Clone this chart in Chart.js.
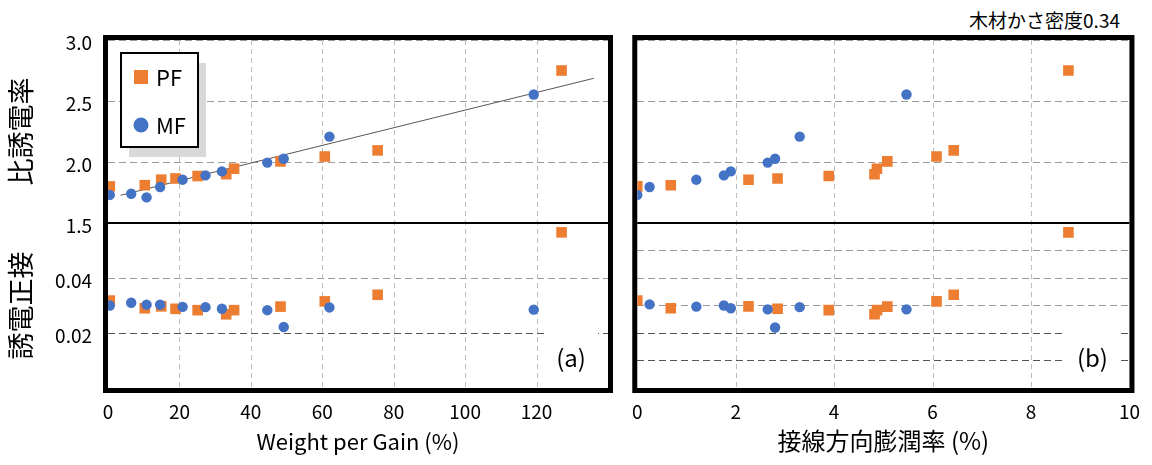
<!DOCTYPE html>
<html lang="ja">
<head>
<meta charset="utf-8">
<title>比誘電率・誘電正接</title>
<script src="https://cdn.jsdelivr.net/npm/chart.js@4.4.1/dist/chart.umd.min.js"></script>
<style>
  html, body { margin: 0; padding: 0; background: #fff; }
  body { width: 1152px; height: 465px; position: relative; overflow: hidden;
         font-family: "Noto Sans CJK JP", "Noto Sans", sans-serif; }
  .panel { position: absolute; top: 0; height: 465px; }
  #panel-a { left: 0; width: 620px; }
  #panel-b { left: 620px; width: 532px; }
  #density { position: absolute; top: 6px; right: 32px; font-size: 19px; line-height: 27px; color: #000; }
</style>
</head>
<body>
<div id="density">木材かさ密度0.34</div>
<div class="panel" id="panel-a"><canvas id="chart-a"></canvas></div>
<div class="panel" id="panel-b"><canvas id="chart-b"></canvas></div>
<script>
// PF samples (same order in both panels)
const pfWpg   = [0.5, 10.3, 14.9, 18.9, 25.1, 33.1, 35.3, 48.3, 60.7, 75.5, 127.0];
const pfSwell = [0.0, 0.68, 2.26, 2.85, 3.89, 4.82, 4.87, 5.08, 6.08, 6.43, 8.76];
const pfEr    = [1.80, 1.81, 1.855, 1.865, 1.885, 1.90, 1.945, 2.005, 2.045, 2.095, 2.75];
const pfTan   = [0.0318, 0.029, 0.0297, 0.0288, 0.0283, 0.0268, 0.0283, 0.0296, 0.0315, 0.0339, 0.0566];

// MF samples; two have no swelling value, one no tan delta in panel (b)
const mfWpg      = [0.5, 6.5, 10.8, 14.6, 20.9, 27.3, 31.9, 44.6, 49.2, 62.0, 119.2];
const mfSwell    = [0.0, null, null, 0.25, 1.2, 1.76, 1.9, 2.65, 2.8, 3.3, 5.47];
const mfEr       = [1.73, 1.74, 1.71, 1.795, 1.855, 1.89, 1.923, 1.995, 2.027, 2.208, 2.553];
const mfTan      = [0.030, 0.031, 0.0303, 0.0303, 0.0295, 0.0294, 0.0288, 0.0283, 0.0222, 0.0293, 0.0285];
const mfTanSwell = [null, null, null, 0.0304, 0.0296, 0.030, 0.029, 0.0286, 0.022, 0.0294, 0.0286];

// trend line drawn in panel (a)
const trendWpg = [3.5, 136];
const trendEr  = [1.727, 2.686];

// tick labels
const wpgTicks   = [0, 20, 40, 60, 80, 100, 120];
const swellTicks = [0, 2, 4, 6, 8, 10];
const erTicks    = [1.5, 2.0, 2.5, 3.0];
const tanTicks   = [0.02, 0.04];

const PF_COLOR = '#ED7D31';
const MF_COLOR = '#4472C4';

Chart.defaults.font.family = '"Noto Sans CJK JP", "Noto Sans", sans-serif';
Chart.defaults.color = '#000';

function xy(xs, ys) {
  const pts = [];
  xs.forEach((x, i) => {
    if (x != null && ys[i] != null) pts.push({ x: x, y: ys[i] });
  });
  return pts;
}

function marks(label, data, axis, color, style, r, order) {
  return {
    label, data, yAxisID: axis, order,
    pointStyle: style, pointRadius: r, pointHoverRadius: r,
    backgroundColor: color, borderColor: color, pointBorderWidth: 0
  };
}

const hasTick = (list, v) => list.some(t => Math.abs(t - v) < 1e-9);

// vertical grid lines are drawn by the frame plugin below
function xScale(min, max, step, shown, title, titleSize) {
  return {
    type: 'linear', min, max,
    afterFit: s => { s.height = 77; },
    ticks: { stepSize: step, autoSkip: false, maxRotation: 0, padding: 12, font: { size: 19 },
             callback: v => hasTick(shown, v) ? String(v) : '' },
    grid: { display: false, drawTicks: false },
    border: { display: false },
    title: { display: true, text: title, font: { size: titleSize }, padding: { top: 0, bottom: 10 } }
  };
}

function yScales(axisWidth, labels) {
  return {
    yTop: {
      type: 'linear', position: 'left', stack: 'main', stackWeight: 183, weight: 2,
      min: 1.5, max: 3.0,
      afterFit: s => { s.width = axisWidth; },
      ticks: { display: labels, stepSize: 0.5, padding: 16, labelOffset: 3, font: { size: 19 },
               callback: v => hasTick(erTicks, v) ? v.toFixed(1) : '' },
      grid: { color: '#9a9a9a', drawTicks: false },
      border: { display: false, dash: [7, 4] },
      title: { display: labels, text: '比誘電率', font: { size: 27 }, padding: { top: 5 } }
    },
    yBot: {
      type: 'linear', position: 'left', stack: 'main', stackWeight: 165, weight: 1,
      min: 0, max: 0.06,
      afterFit: s => { s.width = axisWidth; },
      ticks: { display: labels, stepSize: 0.01, padding: 16, labelOffset: 3, font: { size: 19 },
               callback: v => hasTick(tanTicks, v) ? v.toFixed(2) : '' },
      grid: { color: c => (c.tick && c.tick.value < 0.025) ? '#555' : '#9a9a9a', drawTicks: false },
      border: { display: false, dash: [7, 4] },
      title: { display: labels, text: '誘電正接', font: { size: 27 }, padding: { top: 5 } }
    }
  };
}

// x grid, heavy frame, split line and the (a)/(b) tag
const framePlugin = {
  id: 'frame',
  beforeDatasetsDraw(chart, args, opts) {
    const { ctx, chartArea: a } = chart;
    const xs = chart.scales.x;
    const split = chart.scales.yTop.bottom;
    ctx.save();

    ctx.strokeStyle = '#bdbdbd';
    ctx.lineWidth = 1;
    ctx.setLineDash([5, 4]);
    xs.ticks.forEach(t => {
      const px = Math.round(xs.getPixelForValue(t.value)) + 0.5;
      if (px <= a.left + 1 || px >= a.right - 1) return;
      ctx.beginPath();
      ctx.moveTo(px, a.top);
      ctx.lineTo(px, a.bottom);
      ctx.stroke();
    });
    ctx.setLineDash([]);

    ctx.fillStyle = '#fff';
    ctx.fillRect(a.right - 64, a.bottom - 68, 54, 66);
    ctx.fillStyle = '#000';
    ctx.font = '24px "Noto Sans CJK JP"';
    ctx.textAlign = 'center';
    ctx.textBaseline = 'middle';
    ctx.fillText(opts.tag, a.right - 37, a.bottom - 30);

    ctx.strokeStyle = '#000';
    ctx.lineWidth = 2;
    ctx.beginPath();
    ctx.moveTo(a.left, split);
    ctx.lineTo(a.right, split);
    ctx.stroke();

    ctx.lineWidth = 5;
    ctx.strokeRect(a.left - 2.5, a.top - 2.5, a.width + 5, a.height + 5);
    ctx.restore();
  }
};

// boxed legend with a drop shadow, inside panel (a)
const legendPlugin = {
  id: 'boxLegend',
  afterDraw(chart, args, opts) {
    if (!opts.items) return;
    const { ctx } = chart;
    const { x, y, w, h } = opts;
    ctx.save();
    ctx.fillStyle = '#d9d9d9';
    ctx.fillRect(x + 8, y + 10, w, h);
    ctx.fillStyle = '#fff';
    ctx.fillRect(x, y, w, h);
    ctx.strokeStyle = '#000';
    ctx.lineWidth = 2;
    ctx.strokeRect(x, y, w, h);

    ctx.font = '22px "Noto Sans CJK JP"';
    ctx.textBaseline = 'middle';
    opts.items.forEach((name, i) => {
      const ds = chart.data.datasets.find(d => d.label === name);
      const cy = y + 24 + i * 48;
      const cx = x + 20;
      ctx.fillStyle = ds.backgroundColor;
      if (ds.pointStyle === 'rect') {
        ctx.fillRect(cx - 7, cy - 7, 14, 14);
      } else {
        ctx.beginPath();
        ctx.arc(cx, cy, 7.5, 0, Math.PI * 2);
        ctx.fill();
      }
      ctx.fillStyle = '#000';
      ctx.fillText(name, cx + 15, cy + 1);
    });
    ctx.restore();
  }
};

new Chart(document.getElementById('chart-a'), {
  type: 'scatter',
  data: {
    datasets: [
      marks('MF', xy(mfWpg, mfEr), 'yTop', MF_COLOR, 'circle', 5.2, 0),
      marks('PF', xy(pfWpg, pfEr), 'yTop', PF_COLOR, 'rect', 7.5, 1),
      marks('MF', xy(mfWpg, mfTan), 'yBot', MF_COLOR, 'circle', 5.2, 0),
      marks('PF', xy(pfWpg, pfTan), 'yBot', PF_COLOR, 'rect', 7.5, 1),
      { type: 'line', label: 'trend', data: xy(trendWpg, trendEr), yAxisID: 'yTop', order: 2,
        borderColor: '#555', borderWidth: 1, pointRadius: 0, fill: false }
    ]
  },
  options: {
    responsive: true, maintainAspectRatio: false, animation: false,
    layout: { padding: { left: 0, right: 6, top: 40, bottom: 0 } },
    plugins: {
      legend: { display: false }, tooltip: { enabled: false },
      frame: { tag: '(a)' },
      boxLegend: { items: ['PF', 'MF'], x: 121, y: 53, w: 77, h: 94 }
    },
    scales: Object.assign({ x: xScale(0, 140, 20, wpgTicks, 'Weight per Gain (%)', 22) }, yScales(108, true))
  },
  plugins: [framePlugin, legendPlugin]
});

new Chart(document.getElementById('chart-b'), {
  type: 'scatter',
  data: {
    datasets: [
      marks('MF', xy(mfSwell, mfEr), 'yTop', MF_COLOR, 'circle', 5.2, 0),
      marks('PF', xy(pfSwell, pfEr), 'yTop', PF_COLOR, 'rect', 7.5, 1),
      marks('MF', xy(mfSwell, mfTanSwell), 'yBot', MF_COLOR, 'circle', 5.2, 0),
      marks('PF', xy(pfSwell, pfTan), 'yBot', PF_COLOR, 'rect', 7.5, 1)
    ]
  },
  options: {
    responsive: true, maintainAspectRatio: false, animation: false,
    layout: { padding: { left: 0, right: 13, top: 40, bottom: 0 } },
    plugins: {
      legend: { display: false }, tooltip: { enabled: false },
      frame: { tag: '(b)' }
    },
    scales: Object.assign({ x: xScale(0, 10, 2, swellTicks, '接線方向膨潤率 (%)', 24) }, yScales(13, false))
  },
  plugins: [framePlugin]
});
</script>
</body>
</html>
